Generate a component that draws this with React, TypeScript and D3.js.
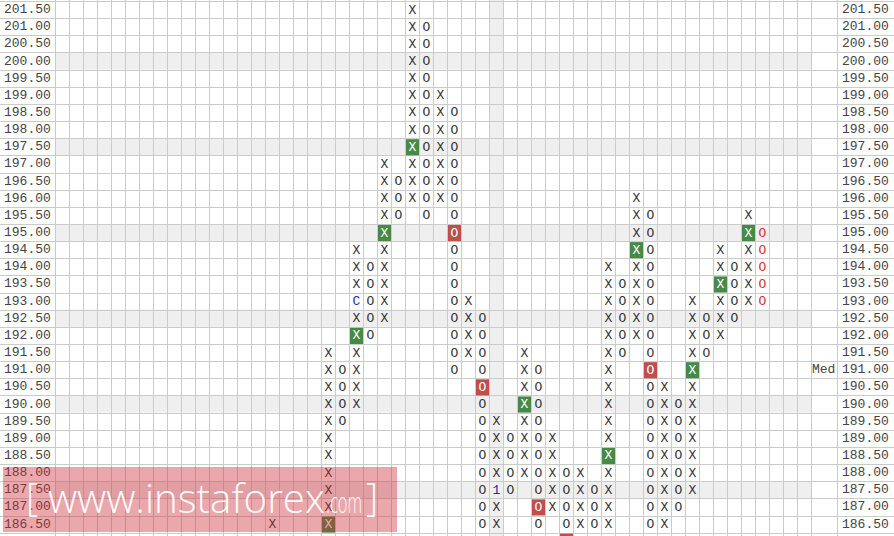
import React from 'react';
import * as d3 from 'd3';

// ---- data ----
const priceTop = 201.5;
const priceBottom = 186.0;
const boxSize = 0.5;

const colPos = [15, 19, 20, 21, 22, 23, 24, 25, 26, 27, 28, 29, 30, 31, 32, 33, 34, 35, 36, 37, 38, 39, 40, 41, 42, 43, 44, 45, 46, 47, 48, 49, 50];
const colKind = ['X', 'X', 'O', 'X', 'O', 'X', 'O', 'X', 'O', 'X', 'O', 'X', 'O', 'X', 'O', 'X', 'O', 'X', 'O', 'X', 'O', 'X', 'O', 'X', 'O', 'X', 'O', 'X', 'O', 'X', 'O', 'X', 'O'];
const colHigh = [186.5, 191.5, 191.0, 194.5, 194.0, 197.0, 196.5, 201.5, 201.0, 199.0, 198.5, 193.0, 192.5, 189.5, 189.0, 191.5, 191.0, 189.0, 188.0, 188.0, 187.5, 194.0, 193.5, 196.0, 195.5, 190.5, 190.0, 193.0, 192.5, 194.5, 194.0, 195.5, 195.0];
const colLow = [186.5, 186.5, 189.5, 190.0, 192.0, 192.5, 195.5, 196.0, 195.5, 196.0, 191.0, 191.5, 186.5, 186.5, 187.5, 188.0, 186.5, 187.0, 186.0, 186.5, 186.5, 186.5, 191.5, 192.0, 186.5, 186.5, 187.0, 187.5, 191.5, 192.0, 192.5, 193.0, 193.0];

const greenCol = [19, 21, 23, 25, 33, 39, 41, 45, 47, 49];
const greenPrice = [186.5, 192.0, 195.0, 197.5, 190.0, 188.5, 194.5, 191.0, 193.5, 195.0];
const redCol = [28, 30, 34, 36, 42];
const redPrice = [195.0, 190.5, 187.0, 186.0, 191.0];
const markCol = [21, 31];
const markPrice = [193.0, 187.5];
const markText = ['C', '1'];
const redTextCol = 50;
const shadedCol = 31;
const medPrice = 191.0;
const medLabel = 'Med';

const nCols = 54;
const W = 894;
const H = 536;

const levels: number[] = d3.range(Math.round((priceTop - priceBottom) / boxSize) + 1).map((i) => +(priceTop - i * boxSize).toFixed(2));
const labelLevels = levels.filter((p) => p >= 186.5);

const key = (p: number) => p.toFixed(2);

export default function App() {
  const rowH = 17.15;
  const y = d3.scaleBand<string>().domain(levels.map(key)).range([1, 1 + rowH * levels.length]).padding(0);
  const x = d3.scaleBand<number>().domain(d3.range(nCols)).range([55, 55 + 14 * nCols]).padding(0);
  const gridRight = 55 + 14 * nCols; // 811
  const medRight = 837;
  const bw = x.bandwidth();
  const bh = y.bandwidth();

  const greenSet = new Set(greenCol.map((c, i) => c + '|' + key(greenPrice[i])));
  const redSet = new Set(redCol.map((c, i) => c + '|' + key(redPrice[i])));
  const markMap = new Map(markCol.map((c, i) => [c + '|' + key(markPrice[i]), markText[i]]));

  const cells: { c: number; p: number; kind: string }[] = [];
  colPos.forEach((c, i) => {
    for (let p = colHigh[i]; p >= colLow[i] - 1e-9; p -= boxSize) {
      cells.push({ c, p: +p.toFixed(2), kind: colKind[i] });
    }
  });

  const font = '"Courier New", "Liberation Mono", "DejaVu Sans Mono", monospace';
  const gridColor = '#cbcbcb';
  const shade = '#efefef';

  const rowEdges = d3.range(levels.length + 1).map((i) => 1 + rowH * i);

  return (
    <svg width={W} height={H} style={{ position: 'fixed', left: 0, top: 0, background: '#fff' }} xmlns="http://www.w3.org/2000/svg">
      <rect x={0} y={0} width={W} height={H} fill="#fff" />
      {/* shaded rows every 2.50 */}
      {levels
        .filter((p) => Math.abs((p / 2.5) - Math.round(p / 2.5)) < 1e-6)
        .map((p) => (
          <rect key={'sr' + p} x={55} y={y(key(p))!} width={gridRight - 55} height={bh} fill={shade} />
        ))}
      {/* shaded column */}
      <rect x={x(shadedCol)!} y={0} width={bw} height={H} fill={shade} />
      {/* horizontal grid */}
      {rowEdges.map((yy, i) => (
        <line key={'h' + i} x1={0} x2={W} y1={Math.round(yy) + 0.5} y2={Math.round(yy) + 0.5} stroke={gridColor} strokeWidth={1} />
      ))}
      {/* vertical grid */}
      {d3.range(nCols + 1).map((i) => (
        <line key={'v' + i} x1={55 + 14 * i + 0.5} x2={55 + 14 * i + 0.5} y1={0} y2={H} stroke={gridColor} strokeWidth={1} />
      ))}
      <line x1={medRight + 0.5} x2={medRight + 0.5} y1={0} y2={H} stroke={gridColor} strokeWidth={1} />
      {/* price labels */}
      {labelLevels.map((p) => (
        <g key={'l' + p}>
          <text x={4} y={y(key(p))! + bh / 2} dominantBaseline="central" fontFamily={font} fontSize={13} fill="#444">
            {p.toFixed(2)}
          </text>
          <text x={842} y={y(key(p))! + bh / 2} dominantBaseline="central" fontFamily={font} fontSize={13} fill="#444">
            {p.toFixed(2)}
          </text>
        </g>
      ))}
      <text x={812} y={y(key(medPrice))! + bh / 2} dominantBaseline="central" fontFamily={font} fontSize={13} fill="#444">
        {medLabel}
      </text>
      {/* boxes */}
      {cells.map(({ c, p, kind }) => {
        const k = c + '|' + key(p);
        const cx = x(c)! + bw / 2;
        const top = y(key(p))!;
        const cy = top + bh / 2;
        const isGreen = greenSet.has(k);
        const isRed = redSet.has(k);
        const mark = markMap.get(k);
        let fill = '#333';
        if (isGreen || isRed) fill = '#fff';
        else if (mark) fill = '#2c2ca0';
        else if (c === redTextCol) fill = '#d93030';
        return (
          <g key={'c' + k}>
            {isGreen && <rect x={x(c)! + 1} y={top + 1} width={bw - 1} height={bh - 1} fill="#478a47" />}
            {isRed && <rect x={x(c)! + 1} y={top + 1} width={bw - 1} height={bh - 1} fill="#c04e4b" />}
            <text x={cx + 0.5} y={cy + 0.5} textAnchor="middle" dominantBaseline="central" fontFamily={font} fontSize={13} fill={fill}>
              {mark ?? kind}
            </text>
          </g>
        );
      })}
      {/* watermark */}
      <rect x={3} y={467} width={394} height={65} fill="rgb(205,45,58)" opacity={0.42} />
      <g fill="#fff" opacity={0.95} fontFamily='"Open Sans", "Noto Sans", sans-serif' fontWeight={300}>
        <text x={26} y={511} fontSize={38}>[</text>
        <text x={48} y={513} fontSize={41} textLength={277} lengthAdjust="spacingAndGlyphs">www.instaforex</text>
        <text x={326} y={513} fontSize={29} textLength={36} lengthAdjust="spacingAndGlyphs">.com</text>
        <text x={366} y={511} fontSize={38}>]</text>
      </g>
    </svg>
  );
}
